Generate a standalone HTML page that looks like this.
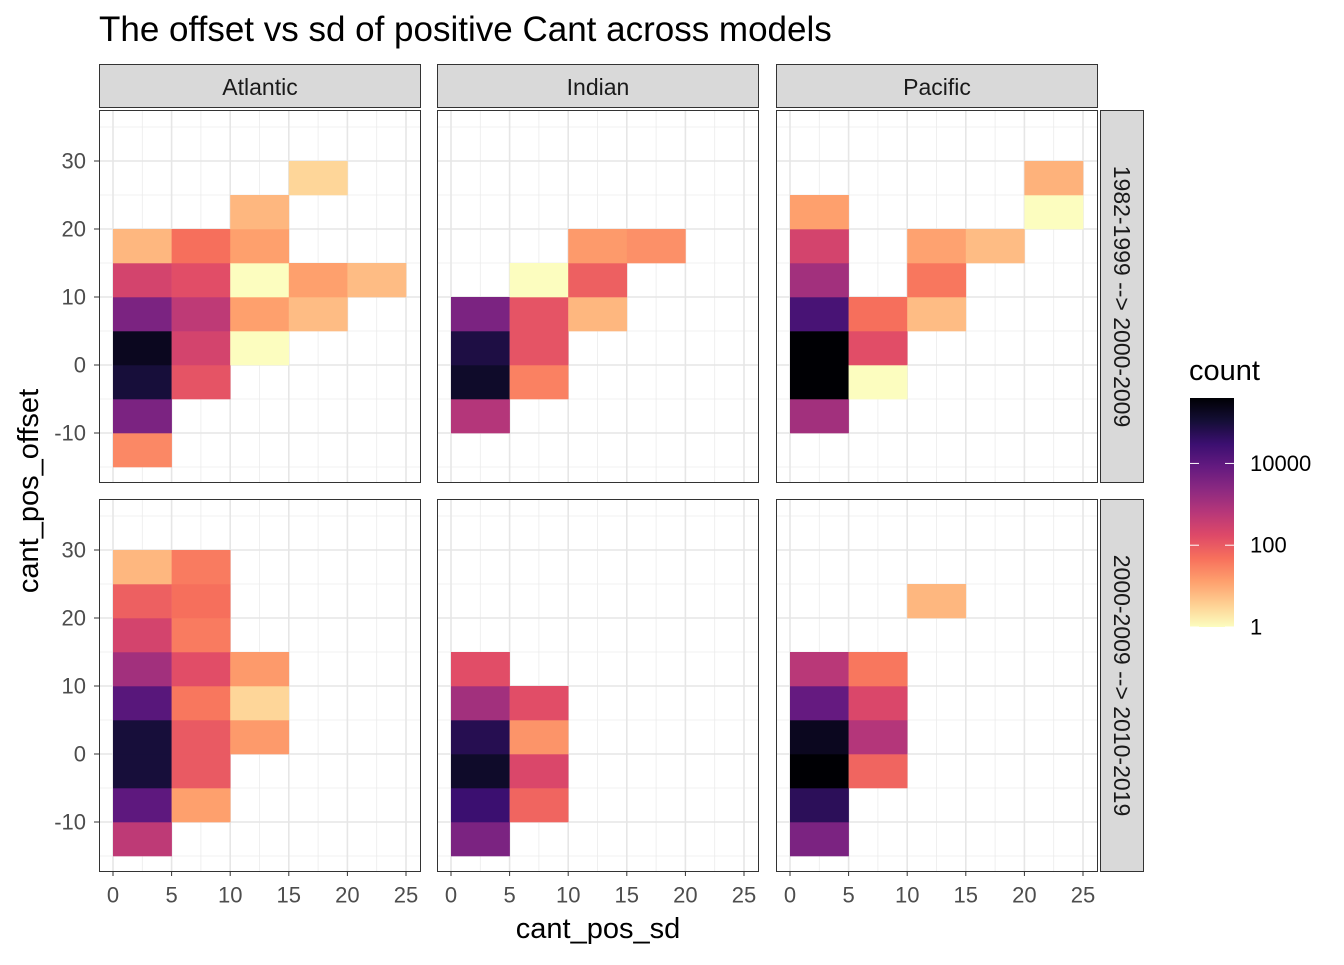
<!DOCTYPE html>
<html><head><meta charset="utf-8"><style>
body{margin:0;background:#fff;font-family:"Liberation Sans",sans-serif}
</style></head><body>
<svg id="c" width="1344" height="960" xmlns="http://www.w3.org/2000/svg" font-family="Liberation Sans, sans-serif"></svg>
<script>
const panelsCol=["Atlantic","Indian","Pacific"];
const panelsRow=["1982-1999 --> 2000-2009","2000-2009 --> 2010-2019"];
const xTicks=[0,5,10,15,20,25];
const yTicks=[-10,0,10,20,30];
const legendTicks=[1,100,10000];
// cells: row, col, x bin start, y bin start
const cellRow=[0,0,0,0,0,0,0, 0,0,0,0,0, 0,0,0,0,0, 0,0,0, 0,
 0,0,0,0, 0,0,0,0, 0,0,0, 0,
 0,0,0,0,0,0,0, 0,0,0, 0,0,0, 0, 0,0,
 1,1,1,1,1,1,1,1,1, 1,1,1,1,1,1,1,1, 1,1,1,
 1,1,1,1,1,1, 1,1,1,1,
 1,1,1,1,1,1, 1,1,1,1, 1];
const cellCol=[0,0,0,0,0,0,0, 0,0,0,0,0, 0,0,0,0,0, 0,0,0, 0,
 1,1,1,1, 1,1,1,1, 1,1,1, 1,
 2,2,2,2,2,2,2, 2,2,2, 2,2,2, 2, 2,2,
 0,0,0,0,0,0,0,0,0, 0,0,0,0,0,0,0,0, 0,0,0,
 1,1,1,1,1,1, 1,1,1,1,
 2,2,2,2,2,2, 2,2,2,2, 2];
const cellX=[0,0,0,0,0,0,0, 5,5,5,5,5, 10,10,10,10,10, 15,15,15, 20,
 0,0,0,0, 5,5,5,5, 10,10,10, 15,
 0,0,0,0,0,0,0, 5,5,5, 10,10,10, 15, 20,20,
 0,0,0,0,0,0,0,0,0, 5,5,5,5,5,5,5,5, 10,10,10,
 0,0,0,0,0,0, 5,5,5,5,
 0,0,0,0,0,0, 5,5,5,5, 10];
const cellY=[-15,-10,-5,0,5,10,15, -5,0,5,10,15, 0,5,10,15,20, 5,10,25, 10,
 -10,-5,0,5, -5,0,5,10, 5,10,15, 15,
 -10,-5,0,5,10,15,20, -5,0,5, 5,10,15, 15, 20,25,
 -15,-10,-5,0,5,10,15,20,25, -10,-5,0,5,10,15,20,25, 0,5,10,
 -15,-10,-5,0,5,10, -10,-5,0,5,
 -15,-10,-5,0,5,10, -5,0,5,10, 20];
const cellCount=[25,4000,100000,200000,4000,250,7, 120,250,500,150,50, 1,13,1,13,7, 6,13,3, 6,
 700,150000,80000,4000, 30,120,120,1, 7,80,15, 20,
 1200,400000,400000,20000,1200,250,13, 1,150,50, 6,40,12, 6, 1,8,
 500,10000,100000,100000,12000,1200,250,80,7, 13,100,100,40,150,35,50,35, 15,3,15,
 4000,30000,150000,60000,1200,150, 70,200,18,150,
 4000,50000,400000,200000,8000,600, 70,700,200,40, 7];

const NS="http://www.w3.org/2000/svg";
const svg=document.getElementById('c');
function mk(t,a,p){const e=document.createElementNS(NS,t);for(const k in a)e.setAttribute(k,a[k]);(p||svg).appendChild(e);return e;}
const colX=[99,437,776], PW=322;
const rowY=[110,499], PH=373;
function xs(c,v){return colX[c]+14+v*11.72;}
function ys(r,v){return rowY[r]+51+(30-v)*6.8;}
const stops=["#000004","#140e36","#3b0f70","#641a80","#8c2981","#b73779","#de4968","#f7705c","#fe9f6d","#fecf92","#fcfdbf"];
function hex(h){return [1,3,5].map(i=>parseInt(h.substr(i,2),16));}
function color(cnt){let t=Math.log10(cnt)/5.6;t=Math.max(0,Math.min(1,t));let m=(1-t)*10;let i=Math.min(9,Math.floor(m)),f=m-i;const a=hex(stops[i]),b=hex(stops[i+1]);return `rgb(${a.map((v,k)=>Math.round(v+(b[k]-v)*f)).join(',')})`;}

let t=mk('text',{x:99,y:41,'font-size':'35px',fill:'#000'});t.textContent="The offset vs sd of positive Cant across models";


for(let r=0;r<2;r++)for(let c=0;c<3;c++){
  const g=mk('g',{});
  
  
  mk('rect',{x:colX[c],y:rowY[r],width:PW,height:PH,fill:'#fff'},g);
  for(let v=-2.5;v<=27.5;v+=5){const x=xs(c,v);if(x>colX[c]&&x<colX[c]+PW)mk('line',{x1:x,x2:x,y1:rowY[r],y2:rowY[r]+PH,stroke:'#ebebeb','stroke-width':0.8},g);}
  for(let v=-15;v<=35;v+=10){const y=ys(r,v);if(y>rowY[r]&&y<rowY[r]+PH)mk('line',{x1:colX[c],x2:colX[c]+PW,y1:y,y2:y,stroke:'#ebebeb','stroke-width':0.8},g);}
  xTicks.forEach(v=>{const x=xs(c,v);mk('line',{x1:x,x2:x,y1:rowY[r],y2:rowY[r]+PH,stroke:'#e6e6e6','stroke-width':1.6},g);});
  yTicks.forEach(v=>{const y=ys(r,v);mk('line',{x1:colX[c],x2:colX[c]+PW,y1:y,y2:y,stroke:'#e6e6e6','stroke-width':1.6},g);});
  for(let i=0;i<cellCount.length;i++){if(cellRow[i]!==r||cellCol[i]!==c)continue;
    const x0=xs(c,cellX[i]),x1=xs(c,cellX[i]+5),y0=ys(r,cellY[i]+5),y1=ys(r,cellY[i]);
    const e=mk('rect',{x:x0,y:y0,width:x1-x0+0.3,height:y1-y0+0.3,fill:color(cellCount[i])},g);
    
    
  }
  mk('rect',{x:colX[c]+0.5,y:rowY[r]+0.5,width:PW-1,height:PH-1,fill:'none',stroke:'#333','stroke-width':1},g);
}
for(let c=0;c<3;c++){
  const s=mk('rect',{x:colX[c]+0.5,y:64.5,width:PW-1,height:43,fill:'#d9d9d9',stroke:'#333','stroke-width':1});
  
  const tt=mk('text',{x:colX[c]+PW/2,y:87,'font-size':'23px','text-anchor':'middle','dominant-baseline':'central',fill:'#1a1a1a'});tt.textContent=panelsCol[c];
}
for(let r=0;r<2;r++){
  const s=mk('rect',{x:1100.5,y:rowY[r]+0.5,width:43,height:PH-1,fill:'#d9d9d9',stroke:'#333','stroke-width':1});
  
  const cy=rowY[r]+PH/2;
  const tt=mk('text',{x:1122,y:cy,'font-size':'23px','text-anchor':'middle','dominant-baseline':'central',fill:'#1a1a1a',transform:`rotate(90 1122 ${cy})`});tt.textContent=panelsRow[r];
}
for(let r=0;r<2;r++)yTicks.forEach(v=>{const y=ys(r,v);mk('line',{x1:94,x2:99,y1:y,y2:y,stroke:'#333','stroke-width':1});
  const tt=mk('text',{x:86,y:y,'font-size':'22px','text-anchor':'end','dominant-baseline':'central',fill:'#4d4d4d'});tt.textContent=v;
  });
for(let c=0;c<3;c++)xTicks.forEach(v=>{const x=xs(c,v);mk('line',{x1:x,x2:x,y1:871,y2:876,stroke:'#333','stroke-width':1});
  const tt=mk('text',{x:x,y:895,'font-size':'22px','text-anchor':'middle','dominant-baseline':'central',fill:'#4d4d4d'});tt.textContent=v;
  });
let xt=mk('text',{x:598,y:938,'font-size':'29px','text-anchor':'middle',fill:'#000'});xt.textContent="cant_pos_sd";

let yt=mk('text',{x:38,y:491,'font-size':'29px','text-anchor':'middle',fill:'#000',transform:'rotate(-90 38 491)'});yt.textContent="cant_pos_offset";

const lg=mk('g',{});
let lt=mk('text',{x:1189,y:380,'font-size':'29px',fill:'#000'},lg);lt.textContent="count";
const defs=mk('defs',{});const grad=mk('linearGradient',{id:'lgd',x1:0,y1:1,x2:0,y2:0},defs);
stops.slice().reverse().forEach((s,i)=>mk('stop',{offset:i/10,'stop-color':s},grad));
const LT=398,LB=627,LMAX=5.6;
mk('rect',{x:1190,y:LT,width:44,height:LB-LT,fill:'url(#lgd)'},lg);
legendTicks.forEach(v=>{const y=LB-Math.log10(v)/LMAX*(LB-LT);
  mk('line',{x1:1190,x2:1199,y1:y,y2:y,stroke:'#fff','stroke-width':1},lg);
  mk('line',{x1:1225,x2:1234,y1:y,y2:y,stroke:'#fff','stroke-width':1},lg);
  const tt=mk('text',{x:1250,y:y,'font-size':'22px','dominant-baseline':'central',fill:'#000'},lg);tt.textContent=v;});
</script>
</body></html>
